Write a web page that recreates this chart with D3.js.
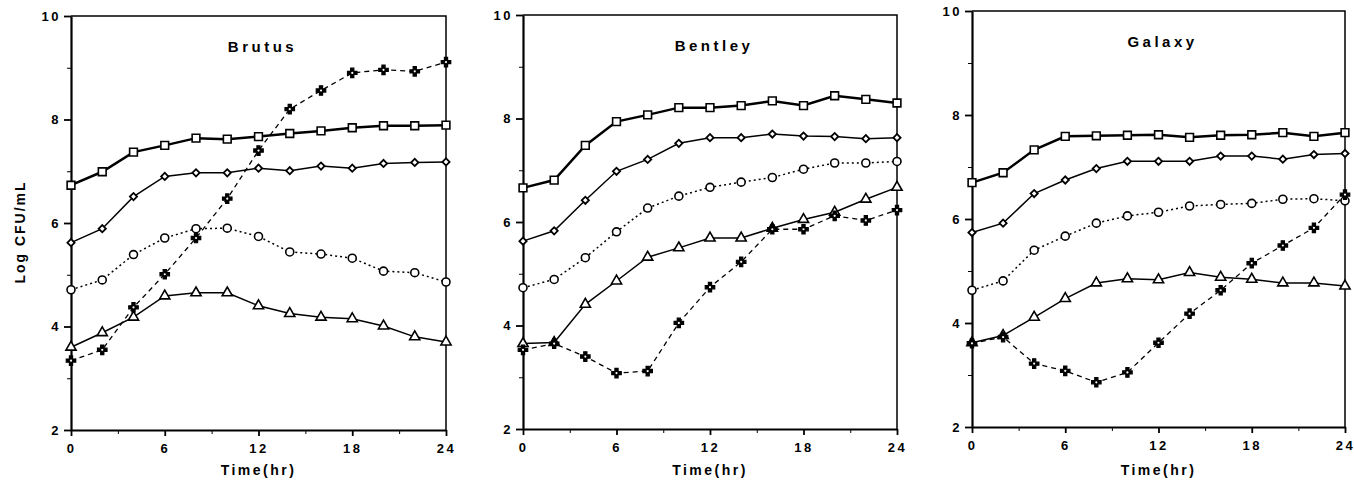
<!DOCTYPE html>
<html>
<head>
<meta charset="utf-8">
<title>Log CFU/mL vs Time</title>
<script src="https://d3js.org/d3.v7.min.js"></script>
<style>
  body { margin: 0; background: #fff; }
  svg text { font-family: "Liberation Sans", Arial, sans-serif; font-weight: bold; fill: #000; }
  .title { font-size: 15px; letter-spacing: 3.5px; }
  .xlabel { font-size: 14px; letter-spacing: 2.5px; }
  .ylabel { font-size: 14px; letter-spacing: 2px; }
</style>
</head>
<body>
<div id="chart"></div>
<script>
  // time points (hr)
  var times = [0, 2, 4, 6, 8, 10, 12, 14, 16, 18, 20, 22, 24];
  var yTicks = [2, 4, 6, 8, 10];
  var yMinor = [3, 5, 7, 9];
  var xTicks = [0, 6, 12, 18, 24];
  var xMinor = [3, 9, 15, 21];
  var panelNames = ["Brutus", "Bentley", "Galaxy"];

  // Brutus
  var brutusSquare   = [6.73, 6.99, 7.37, 7.50, 7.64, 7.62, 7.67, 7.73, 7.78, 7.84, 7.88, 7.88, 7.89];
  var brutusDiamond  = [5.62, 5.89, 6.51, 6.90, 6.97, 6.97, 7.06, 7.01, 7.10, 7.06, 7.15, 7.17, 7.18];
  var brutusCircle   = [4.71, 4.90, 5.39, 5.71, 5.89, 5.90, 5.74, 5.44, 5.40, 5.32, 5.07, 5.04, 4.86];
  var brutusTriangle = [3.60, 3.88, 4.18, 4.59, 4.65, 4.65, 4.40, 4.25, 4.18, 4.15, 4.01, 3.80, 3.70];
  var brutusStar     = [3.34, 3.55, 4.37, 5.01, 5.71, 6.47, 7.40, 8.20, 8.56, 8.90, 8.96, 8.93, 9.11];

  // Bentley
  var bentleySquare   = [6.66, 6.81, 7.48, 7.94, 8.07, 8.21, 8.21, 8.25, 8.34, 8.25, 8.44, 8.37, 8.30];
  var bentleyDiamond  = [5.63, 5.83, 6.42, 6.98, 7.21, 7.52, 7.63, 7.63, 7.70, 7.66, 7.65, 7.61, 7.63];
  var bentleyCircle   = [4.73, 4.89, 5.31, 5.81, 6.27, 6.50, 6.67, 6.77, 6.86, 7.02, 7.14, 7.14, 7.17];
  var bentleyTriangle = [3.65, 3.67, 4.41, 4.86, 5.32, 5.50, 5.69, 5.69, 5.88, 6.05, 6.19, 6.44, 6.67];
  var bentleyStar     = [3.53, 3.65, 3.40, 3.08, 3.12, 4.05, 4.74, 5.23, 5.86, 5.86, 6.12, 6.03, 6.23];

  // Galaxy
  var galaxySquare   = [6.70, 6.89, 7.33, 7.59, 7.60, 7.61, 7.62, 7.57, 7.61, 7.62, 7.66, 7.59, 7.66];
  var galaxyDiamond  = [5.74, 5.92, 6.49, 6.75, 6.97, 7.11, 7.11, 7.11, 7.21, 7.21, 7.15, 7.24, 7.26];
  var galaxyCircle   = [4.63, 4.81, 5.40, 5.67, 5.92, 6.06, 6.13, 6.25, 6.28, 6.30, 6.38, 6.39, 6.35];
  var galaxyTriangle = [3.62, 3.76, 4.11, 4.47, 4.77, 4.85, 4.83, 4.97, 4.88, 4.84, 4.77, 4.77, 4.71];
  var galaxyStar     = [3.61, 3.73, 3.22, 3.08, 2.86, 3.05, 3.62, 4.18, 4.63, 5.15, 5.49, 5.83, 6.47];

  var panelData = [
    [brutusSquare, brutusDiamond, brutusCircle, brutusTriangle, brutusStar],
    [bentleySquare, bentleyDiamond, bentleyCircle, bentleyTriangle, bentleyStar],
    [galaxySquare, galaxyDiamond, galaxyCircle, galaxyTriangle, galaxyStar]
  ];

  // series styling: order matches the arrays above
  var styles = [
    { symbol: d3.symbolSquare,   size: 60, rot: 0,  width: 2.5, dash: null,  fill: "#fff", sw: 1.6 },
    { symbol: d3.symbolSquare,   size: 26, rot: 45, width: 1.5, dash: null,  fill: "#fff", sw: 1.8 },
    { symbol: d3.symbolCircle,   size: 50, rot: 0,  width: 1.5, dash: "2,3", fill: "#fff", sw: 1.6 },
    { symbol: d3.symbolTriangle, size: 45, rot: 0,  width: 1.5, dash: null,  fill: "#fff", sw: 1.6 },
    { symbol: d3.symbolCross,    size: 50, rot: 0,  width: 1.3, dash: "5,4", fill: "#000", sw: 1.2 }
  ];

  // panel frames in page pixels
  var frames = [
    { left: 71,  right: 446,  top: 16, bottom: 430 },
    { left: 523, right: 897,  top: 15, bottom: 429 },
    { left: 972, right: 1345, top: 11, bottom: 427 }
  ];

  var svg = d3.select("#chart").append("svg")
    .attr("width", 1354)
    .attr("height", 485);

  // y axis label, only once on the far left
  svg.append("text")
    .attr("class", "ylabel")
    .attr("transform", "translate(25,232) rotate(-90)")
    .attr("text-anchor", "middle")
    .text("Log CFU/mL");

  frames.forEach(function (f, i) {
    var x = d3.scaleLinear().domain([0, 24]).range([f.left, f.right]);
    var y = d3.scaleLinear().domain([2, 10]).range([f.bottom, f.top]);
    var g = svg.append("g");

    // top and right border
    g.append("path")
      .attr("d", "M" + f.left + "," + f.top + "H" + f.right + "V" + f.bottom)
      .attr("fill", "none")
      .attr("stroke", "#000")
      .attr("stroke-width", 1.5);

    // minor ticks
    g.append("g")
      .attr("transform", "translate(" + f.left + ",0)")
      .call(d3.axisLeft(y).tickValues(yMinor).tickSize(4).tickFormat(""))
      .call(function (a) { a.select(".domain").remove(); });
    g.append("g")
      .attr("transform", "translate(0," + f.bottom + ")")
      .call(d3.axisBottom(x).tickValues(xMinor).tickSize(4).tickFormat(""))
      .call(function (a) { a.select(".domain").remove(); });

    // major axes
    var ya = g.append("g")
      .attr("transform", "translate(" + f.left + ",0)")
      .call(d3.axisLeft(y).tickValues(yTicks).tickSize(7).tickSizeOuter(0).tickPadding(3));
    var xa = g.append("g")
      .attr("transform", "translate(0," + f.bottom + ")")
      .call(d3.axisBottom(x).tickValues(xTicks).tickSize(6).tickSizeOuter(0).tickPadding(8));
    [ya, xa].forEach(function (a) {
      a.select(".domain").attr("stroke-width", 2.2);
      a.selectAll(".tick line").attr("stroke-width", 1.8);
      a.selectAll(".tick text")
        .style("font-size", "13px")
        .style("letter-spacing", "2.5px")
        .style("font-family", "'Liberation Sans', Arial, sans-serif")
        .style("font-weight", "bold");
    });

    g.append("text")
      .attr("class", "title")
      .attr("x", (f.left + f.right) / 2 + 4)
      .attr("y", f.top + 36)
      .attr("text-anchor", "middle")
      .text(panelNames[i]);

    g.append("text")
      .attr("class", "xlabel")
      .attr("x", (f.left + f.right) / 2)
      .attr("y", 475)
      .attr("text-anchor", "middle")
      .text("Time(hr)");

    var line = d3.line()
      .x(function (d, j) { return x(times[j]); })
      .y(function (d) { return y(d); });

    panelData[i].forEach(function (vals, s) {
      var st = styles[s];
      g.append("path")
        .datum(vals)
        .attr("d", line)
        .attr("fill", "none")
        .attr("stroke", "#000")
        .attr("stroke-width", st.width)
        .attr("stroke-dasharray", st.dash);

      var m = g.selectAll(".m" + s)
        .data(vals)
        .enter()
        .append("g")
        .attr("class", "m" + s)
        .attr("transform", function (d, j) {
          return "translate(" + x(times[j]) + "," + y(d) + ") rotate(" + st.rot + ")";
        });
      m.append("path")
        .attr("d", d3.symbol().type(st.symbol).size(st.size))
        .attr("fill", st.fill)
        .attr("stroke", "#000")
        .attr("stroke-width", st.sw);
      if (st.symbol === d3.symbolCross) {
        m.append("circle").attr("r", 1.1).attr("fill", "#fff");
      }
    });
  });
</script>
</body>
</html>
